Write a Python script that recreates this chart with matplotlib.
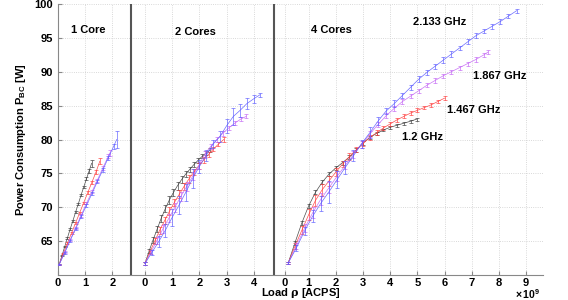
import matplotlib.pyplot as plt

plt.rcParams['font.family'] = ['Liberation Sans', 'DejaVu Sans']
plt.rcParams['font.weight'] = 'bold'
plt.rcParams['axes.labelweight'] = 'bold'
plt.rcParams['mathtext.fontset'] = 'custom'
plt.rcParams['mathtext.rm'] = 'Liberation Sans'
plt.rcParams['mathtext.it'] = 'DejaVu Serif'
plt.rcParams['mathtext.bf'] = 'Liberation Sans:bold'

# panels: 1 core, 2 cores, 4 cores (load in 1e9 ACPS, shifted by offset)
panel_labels = ['1 Core', '2 Cores', '4 Cores']
offsets = [0.0, 3.2, 8.22]
separators = [2.68, 7.93]
freq_labels = ['1.2 GHz', '1.467 GHz', '1.867 GHz', '2.133 GHz']
colors = ['#3a3a3a', '#ff3b3b', '#c466f5', '#5c5cff']

# ---- 1 core ----
c1_x_12 = [0.05, 0.15, 0.25, 0.35, 0.45, 0.55, 0.65, 0.75, 0.85, 0.95, 1.05, 1.15, 1.24]
c1_y_12 = [61.6, 62.9, 64.2, 65.5, 66.8, 68.0, 69.3, 70.5, 71.8, 73.0, 74.2, 75.4, 76.5]
c1_e_12 = [0.1, 0.1, 0.1, 0.15, 0.1, 0.15, 0.1, 0.15, 0.15, 0.2, 0.2, 0.3, 0.5]
c1_x_1467 = [0.05, 0.20, 0.35, 0.50, 0.65, 0.80, 0.95, 1.10, 1.25, 1.40, 1.54]
c1_y_1467 = [61.6, 63.2, 64.7, 66.2, 67.7, 69.2, 70.7, 72.2, 73.7, 75.2, 76.8]
c1_e_1467 = [0.1, 0.1, 0.15, 0.1, 0.15, 0.15, 0.15, 0.2, 0.2, 0.25, 0.4]
c1_x_1867 = [0.05, 0.25, 0.45, 0.65, 0.85, 1.05, 1.25, 1.45, 1.65, 1.85, 1.90]
c1_y_1867 = [61.6, 63.4, 65.2, 67.0, 68.8, 70.6, 72.3, 74.0, 75.8, 77.5, 78.0]
c1_e_1867 = [0.1, 0.1, 0.15, 0.15, 0.2, 0.15, 0.2, 0.2, 0.25, 0.3, 0.4]
c1_x_2133 = [0.05, 0.25, 0.45, 0.65, 0.85, 1.05, 1.25, 1.45, 1.65, 1.85, 2.05, 2.16]
c1_y_2133 = [61.6, 63.3, 65.1, 66.8, 68.6, 70.3, 72.0, 73.8, 75.5, 77.3, 79.0, 80.0]
c1_e_2133 = [0.1, 0.15, 0.15, 0.2, 0.2, 0.2, 0.25, 0.25, 0.3, 0.3, 0.4, 1.2]

# ---- 2 cores ----
c2_x_12 = [0.0, 0.15, 0.30, 0.45, 0.60, 0.75, 0.90, 1.05, 1.20, 1.35, 1.50, 1.65, 1.80, 1.95, 2.10, 2.25, 2.38]
c2_y_12 = [61.7, 63.5, 65.2, 66.8, 68.4, 69.8, 71.1, 72.2, 73.2, 74.1, 74.9, 75.6, 76.3, 76.9, 77.5, 78.0, 78.4]
c2_e_12 = [0.2, 0.3, 0.4, 0.4, 0.5, 0.5, 0.6, 0.5, 0.6, 0.5, 0.5, 0.4, 0.4, 0.4, 0.3, 0.3, 0.3]
c2_x_1467 = [0.0, 0.18, 0.36, 0.54, 0.72, 0.90, 1.08, 1.26, 1.44, 1.62, 1.80, 1.98, 2.16, 2.34, 2.52, 2.70, 2.90]
c2_y_1467 = [61.7, 63.4, 65.0, 66.6, 68.0, 69.4, 70.7, 71.9, 73.1, 74.2, 75.2, 76.1, 77.0, 77.8, 78.6, 79.3, 80.0]
c2_e_1467 = [0.2, 0.3, 0.4, 0.5, 0.5, 0.6, 0.5, 0.6, 0.5, 0.6, 0.5, 0.4, 0.4, 0.4, 0.3, 0.3, 0.3]
c2_x_1867 = [0.0, 0.22, 0.44, 0.66, 0.88, 1.10, 1.32, 1.54, 1.76, 1.98, 2.20, 2.42, 2.64, 2.86, 3.08, 3.30, 3.52, 3.72]
c2_y_1867 = [61.7, 63.4, 65.1, 66.8, 68.4, 70.0, 71.6, 73.1, 74.6, 76.2, 77.8, 79.0, 80.0, 80.9, 81.7, 82.4, 83.0, 83.4]
c2_e_1867 = [0.2, 0.3, 0.5, 0.6, 0.6, 0.7, 0.6, 0.7, 0.6, 0.5, 0.5, 0.4, 0.4, 0.4, 0.3, 0.3, 0.3, 0.3]
c2_x_2133 = [0.0, 0.25, 0.50, 0.75, 1.00, 1.25, 1.50, 1.75, 2.00, 2.25, 2.50, 2.75, 3.00, 3.25, 3.50, 3.75, 4.00, 4.23]
c2_y_2133 = [61.7, 63.3, 64.9, 66.6, 68.5, 70.3, 72.2, 74.2, 76.0, 77.6, 79.3, 80.4, 82.0, 83.4, 84.3, 85.3, 86.0, 86.6]
c2_e_2133 = [0.2, 0.4, 0.8, 1.0, 1.2, 1.3, 1.2, 1.4, 1.0, 0.8, 0.6, 0.8, 1.0, 1.2, 1.0, 0.8, 0.6, 0.3]

# ---- 4 cores ----
c4_x_12 = [0.25, 0.50, 0.75, 1.00, 1.25, 1.50, 1.75, 2.00, 2.25, 2.50, 2.75, 3.00, 3.25, 3.50, 3.75,
           4.00, 4.25, 4.50, 4.75, 4.97]
c4_y_12 = [61.8, 64.8, 67.7, 70.2, 72.2, 73.7, 74.9, 75.8, 76.6, 77.4, 78.4, 79.5, 80.3, 80.9, 81.4,
           81.8, 82.1, 82.4, 82.7, 83.0]
c4_e_12 = [0.2, 0.3, 0.3, 0.3, 0.3, 0.3, 0.3, 0.3, 0.3, 0.3, 0.3, 0.25, 0.25, 0.25, 0.2,
           0.2, 0.2, 0.2, 0.2, 0.2]
c4_x_1467 = [0.25, 0.50, 0.75, 1.00, 1.25, 1.50, 1.75, 2.00, 2.25, 2.50, 2.75, 3.00, 3.25, 3.50, 3.75,
             4.00, 4.25, 4.50, 4.75, 5.00, 5.25, 5.50, 5.75, 6.00]
c4_y_1467 = [61.8, 64.3, 66.6, 68.9, 71.0, 72.6, 73.9, 75.2, 76.4, 77.5, 78.5, 79.4, 80.3, 81.0, 81.7,
             82.3, 82.9, 83.4, 83.9, 84.3, 84.7, 85.1, 85.6, 86.1]
c4_e_1467 = [0.2, 0.4, 0.6, 0.8, 0.8, 0.9, 0.7, 0.6, 0.5, 0.5, 0.4, 0.4, 0.35, 0.35, 0.3,
             0.3, 0.3, 0.3, 0.3, 0.3, 0.25, 0.25, 0.25, 0.25]
c4_x_1867 = [0.25, 0.55, 0.85, 1.15, 1.45, 1.75, 2.05, 2.35, 2.65, 2.95, 3.25, 3.55, 3.85, 4.15, 4.45,
             4.75, 5.05, 5.35, 5.65, 5.95, 6.25, 6.55, 6.85, 7.15, 7.45, 7.60]
c4_y_1867 = [61.8, 64.3, 66.9, 69.2, 71.2, 72.9, 74.6, 76.2, 77.8, 79.3, 80.8, 82.2, 83.5, 84.6, 85.6,
             86.4, 87.2, 88.0, 88.7, 89.4, 90.0, 90.6, 91.2, 91.8, 92.5, 92.9]
c4_e_1867 = [0.2, 0.4, 0.6, 0.8, 0.9, 0.8, 0.7, 0.6, 0.5, 0.5, 0.4, 0.4, 0.4, 0.35, 0.35,
             0.3, 0.3, 0.3, 0.3, 0.3, 0.3, 0.3, 0.3, 0.3, 0.3, 0.3]
c4_x_2133 = [0.25, 0.55, 0.85, 1.15, 1.45, 1.75, 2.05, 2.35, 2.65, 2.95, 3.25, 3.55, 3.85, 4.15, 4.45,
             4.75, 5.05, 5.35, 5.65, 5.95, 6.25, 6.55, 6.85, 7.15, 7.45, 7.75, 8.05, 8.35, 8.65]
c4_y_2133 = [61.8, 64.0, 66.5, 68.7, 70.6, 72.3, 74.1, 75.9, 77.6, 79.4, 81.0, 82.7, 84.2, 85.3, 86.5,
             87.7, 88.9, 89.9, 90.8, 91.7, 92.6, 93.5, 94.4, 95.3, 96.0, 96.7, 97.4, 98.2, 99.0]
c4_e_2133 = [0.2, 0.4, 0.6, 0.9, 1.1, 1.6, 1.3, 1.0, 0.8, 0.6, 0.8, 0.6, 0.5, 0.5, 0.4,
             0.4, 0.4, 0.4, 0.4, 0.4, 0.4, 0.35, 0.35, 0.35, 0.35, 0.35, 0.35, 0.35, 0.3]

panels = [
    [(c1_x_12, c1_y_12, c1_e_12), (c1_x_1467, c1_y_1467, c1_e_1467),
     (c1_x_1867, c1_y_1867, c1_e_1867), (c1_x_2133, c1_y_2133, c1_e_2133)],
    [(c2_x_12, c2_y_12, c2_e_12), (c2_x_1467, c2_y_1467, c2_e_1467),
     (c2_x_1867, c2_y_1867, c2_e_1867), (c2_x_2133, c2_y_2133, c2_e_2133)],
    [(c4_x_12, c4_y_12, c4_e_12), (c4_x_1467, c4_y_1467, c4_e_1467),
     (c4_x_1867, c4_y_1867, c4_e_1867), (c4_x_2133, c4_y_2133, c4_e_2133)],
]
panel_ticks = [[0, 1, 2], [0, 1, 2, 3, 4], [0, 1, 2, 3, 4, 5, 6, 7, 8, 9]]

fig = plt.figure(figsize=(5.68, 3.0), dpi=100)
ax = fig.add_axes([0.102, 0.083, 0.854, 0.904])

for off, series in zip(offsets, panels):
    for i, (x, y, e) in enumerate(series):
        ax.errorbar([v + off for v in x], y, yerr=e, color=colors[i], lw=0.5,
                    elinewidth=0.5, capsize=1.2, capthick=0.5, alpha=0.9, zorder=2 + i)

for s in separators:
    ax.axvline(s, color='#555555', lw=1.5, zorder=10)

# panel and frequency annotations
ax.text(1.10, 96.2, panel_labels[0], ha='center', va='center', fontsize=8)
ax.text(5.04, 95.9, panel_labels[1], ha='center', va='center', fontsize=8)
ax.text(10.07, 96.2, panel_labels[2], ha='center', va='center', fontsize=8)
ax.text(14.04, 97.3, freq_labels[3], ha='center', va='center', fontsize=8)
ax.text(16.25, 89.4, freq_labels[2], ha='center', va='center', fontsize=8)
ax.text(15.29, 84.4, freq_labels[1], ha='center', va='center', fontsize=8)
ax.text(13.42, 80.4, freq_labels[0], ha='center', va='center', fontsize=8)

ticks, labels = [], []
for off, tl in zip(offsets, panel_ticks):
    for t in tl:
        pos = off + t
        if off > 8 and t == 0:
            pos = off + 0.13
        ticks.append(pos)
        labels.append(str(t))
ax.set_xticks(ticks)
ax.set_xticklabels(labels, fontweight='bold')
ax.set_yticks([65, 70, 75, 80, 85, 90, 95, 100])
ax.set_yticklabels(['65', '70', '75', '80', '85', '90', '95', '100'], fontweight='bold')
ax.set_xlim(0, 17.84)
ax.set_ylim(60, 100)

ax.tick_params(direction='in', length=3, color='#888888', labelsize=8)
ax.tick_params(axis='x', pad=2)
for side in ['top', 'right']:
    ax.spines[side].set_visible(False)
for side in ['left', 'bottom']:
    ax.spines[side].set_color('#888888')
    ax.spines[side].set_linewidth(0.8)
ax.grid(True, linestyle=':', color='#cccccc', linewidth=0.6)
ax.set_axisbelow(True)

ax.set_xlabel(r'Load $\rho$ [ACPS]', fontsize=8, fontweight='bold', labelpad=-1)
ax.set_ylabel(r'Power Consumption P$_{\mathbf{BC}}$ [W]', fontsize=8, fontweight='bold', labelpad=5)
fig.text(528 / 568, 1 - 294.5 / 300, r'$\times\,10^{9}$', ha='center', va='center',
         fontsize=7.5, fontweight='normal')

fig.savefig('out.png', dpi=100)
